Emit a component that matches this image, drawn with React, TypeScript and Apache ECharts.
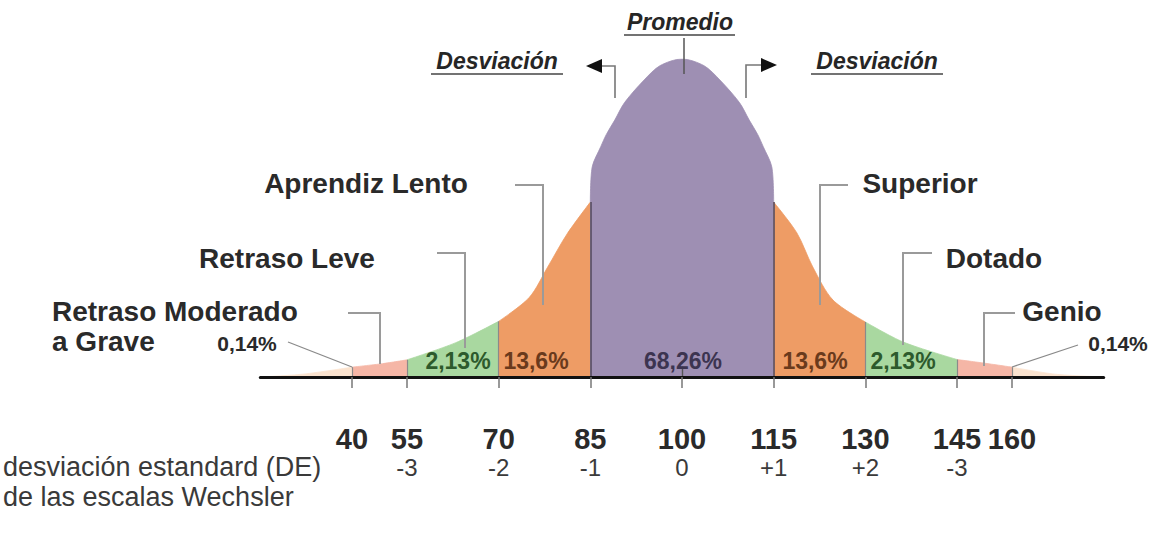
import React, { useEffect, useRef } from 'react';
import * as echarts from 'echarts';

const FONT = '"Liberation Sans", Arial, Helvetica, sans-serif';

// Curve: IQ score vs relative height (% of peak)
const curveIQ = [31, 38, 46, 51, 55, 63, 70, 75, 78, 81.2, 85, 85.3, 86.7, 87.6, 89, 90.6, 93.8, 96.4, 100, 103.6, 106.2, 109.4, 111, 112.4, 113.3, 114.7, 115, 118.8, 121.4, 124.7, 130, 136.2, 145, 149.3, 154, 161, 169];
const curveHeight = [0, 0.9, 3.1, 4.2, 5.4, 10.8, 17.5, 25, 34.5, 45, 55, 66, 72.4, 76.2, 80.8, 86.3, 93.4, 97.9, 100, 97.9, 93.4, 86.3, 80.8, 76.2, 72.4, 66, 55, 45.3, 34.6, 24.2, 17.3, 11, 5.5, 4.4, 3.1, 0.9, 0];

const regionBounds = [31, 46, 55, 70, 85, 115, 130, 145, 154, 169];
const regionColors = ['#fbe3cf', '#f5b6a6', '#a9d8a0', '#ee9c65', '#9e8fb3', '#ee9c65', '#a9d8a0', '#f5b6a6', '#fbe3cf'];
const boundaryValues = [46, 55, 70, 85, 115, 130, 145, 154];

const tickValues = [46, 55, 70, 85, 100, 115, 130, 145, 154];
const tickLabels = ['40', '55', '70', '85', '100', '115', '130', '145', '160'];
const sdValues = [55, 70, 85, 100, 115, 130, 145];
const sdLabels = ['-3', '-2', '-1', '0', '+1', '+2', '-3'];

const percentTexts = ['2,13%', '13,6%', '68,26%', '13,6%', '2,13%'];
const percentColors = ['#2d5a2c', '#6a3a1c', '#3c3450', '#6a3a1c', '#2d5a2c'];

export default function App() {
  const ref = useRef<HTMLDivElement>(null);
  useEffect(() => {
    const chart = echarts.init(ref.current!, null, { renderer: 'svg' });
    const pts = curveIQ.map((x, i) => [x, curveHeight[i]]);
    const heightAt = (x: number) => curveHeight[curveIQ.indexOf(x)];

    const regionSeries: any[] = regionColors.map((c, i) => {
      const a = regionBounds[i];
      const b = regionBounds[i + 1];
      return {
        type: 'line',
        data: pts.filter(([x]) => x >= a && x <= b),
        showSymbol: false,
        smooth: 0.3,
        lineStyle: { width: 0.8, color: c },
        areaStyle: { color: c, opacity: 1 },
        silent: true,
        z: 2,
      };
    });

    const markData: any[] = boundaryValues.map((x) => {
      const strong = x === 85 || x === 115;
      return [
        { coord: [x, 0], lineStyle: { color: strong ? '#564c60' : '#8a8a8a', width: strong ? 1.6 : 1.2, type: 'solid' } },
        { coord: [x, heightAt(x)] },
      ];
    });
    markData.push([
      { coord: [100, 0], lineStyle: { color: '#555', width: 1.4, type: 'solid' } },
      { coord: [100, 3.3] },
    ]);
    regionSeries.push({
      type: 'line',
      data: [],
      silent: true,
      z: 3,
      markLine: { symbol: 'none', silent: true, label: { show: false }, data: markData, animation: false },
    });

    const txt = (text: string, x: number, y: number, size: number, extra: any = {}) => ({
      type: 'text',
      x,
      y,
      z: 100,
      silent: true,
      style: {
        text,
        fontSize: size,
        fontFamily: FONT,
        fontWeight: 'bold',
        fill: '#2a2a2a',
        align: 'center',
        verticalAlign: 'middle',
        ...extra,
      },
    });
    const pl = (points: number[][], color = '#9a9a9a', width = 2) => ({
      type: 'polyline',
      z: 100,
      silent: true,
      shape: { points },
      style: { stroke: color, lineWidth: width, fill: 'none' },
    });
    const ln = (x1: number, y1: number, x2: number, y2: number, color = '#333', width = 1.5) => ({
      type: 'line',
      z: 100,
      silent: true,
      shape: { x1, y1, x2, y2 },
      style: { stroke: color, lineWidth: width },
    });

    const percentX = [458, 536, 683, 815, 903];

    const graphic: any[] = [
      // top
      txt('Promedio', 680, 22, 23, { fontStyle: 'italic', fill: '#262626' }),
      ln(624, 35, 735, 35, '#444', 1.5),
      ln(684, 38, 684, 74, '#555', 1.5),
      txt('Desviación', 497, 61, 23, { fontStyle: 'italic', fill: '#262626' }),
      ln(431, 74, 563, 74, '#444', 1.5),
      txt('Desviación', 877, 61, 23, { fontStyle: 'italic', fill: '#262626' }),
      ln(811, 74, 943, 74, '#444', 1.5),
      pl([[615, 98], [615, 66], [600, 66]], '#777', 1.6),
      { type: 'polygon', z: 100, silent: true, shape: { points: [[586, 66], [602, 59], [602, 73]] }, style: { fill: '#111' } },
      pl([[746, 98], [746, 65], [762, 65]], '#777', 1.6),
      { type: 'polygon', z: 100, silent: true, shape: { points: [[777, 65], [761, 58], [761, 72]] }, style: { fill: '#111' } },
      // category labels
      txt('Aprendiz Lento', 366, 183, 28),
      pl([[515, 185], [543, 185], [543, 305]]),
      txt('Superior', 920, 183, 28),
      pl([[848, 185], [820, 185], [820, 305]]),
      txt('Retraso Leve', 287, 258, 28),
      pl([[437, 253], [465, 253], [465, 348]]),
      txt('Dotado', 994, 258, 28),
      pl([[932, 253], [903, 253], [903, 345]]),
      txt('Retraso Moderado', 52, 311, 28, { align: 'left' }),
      txt('a Grave', 52, 341, 28, { align: 'left' }),
      pl([[348, 313], [380, 313], [380, 364]]),
      txt('Genio', 1062, 311, 28),
      pl([[1015, 313], [984, 313], [984, 366]]),
      txt('0,14%', 247, 343, 21),
      pl([[288, 342], [352, 367]], '#8a8a8a', 1.3),
      txt('0,14%', 1118, 343, 21),
      pl([[1078, 345], [1012, 367]], '#8a8a8a', 1.3),
      // bottom-left caption
      txt('desviación estandard (DE)', 3, 467, 27, { align: 'left', fontWeight: 'normal', fill: '#3a3a3a' }),
      txt('de las escalas Wechsler', 3, 497, 27, { align: 'left', fontWeight: 'normal', fill: '#3a3a3a' }),
    ];
    percentTexts.forEach((t, i) => {
      graphic.push(txt(t, percentX[i], 361, 23, { fill: percentColors[i] }));
    });

    const option: any = {
      animation: false,
      backgroundColor: '#ffffff',
      grid: { left: 260.3, right: 51.3, top: 59, bottom: 160, containLabel: false, outerBoundsMode: 'none' },
      xAxis: [
        {
          type: 'value',
          min: 31,
          max: 169,
          z: 10,
          splitLine: { show: false },
          axisLine: { show: true, onZero: false, lineStyle: { color: '#111', width: 3 } },
          axisTick: { show: true, customValues: tickValues, length: 11, lineStyle: { color: '#777', width: 1.5 } },
          axisLabel: {
            customValues: tickValues,
            formatter: (v: number) => tickLabels[tickValues.indexOf(v)] ?? '',
            fontSize: 29,
            fontWeight: 'bold',
            fontFamily: FONT,
            color: '#2a2a2a',
            margin: 47,
          },
        },
        {
          type: 'value',
          position: 'bottom',
          min: 31,
          max: 169,
          splitLine: { show: false },
          axisLine: { show: false, onZero: false },
          axisTick: { show: false },
          axisLabel: {
            customValues: sdValues,
            formatter: (v: number) => sdLabels[sdValues.indexOf(v)] ?? '',
            fontSize: 24,
            fontFamily: FONT,
            color: '#3a3a3a',
            margin: 78,
          },
        },
      ],
      yAxis: { type: 'value', min: 0, max: 100, show: false },
      series: regionSeries,
      graphic,
    };
    chart.setOption(option);
    return () => chart.dispose();
  }, []);
  return <div ref={ref} style={{ position: 'fixed', left: 0, top: 0, width: 1155, height: 537, background: '#fff' }} />;
}
